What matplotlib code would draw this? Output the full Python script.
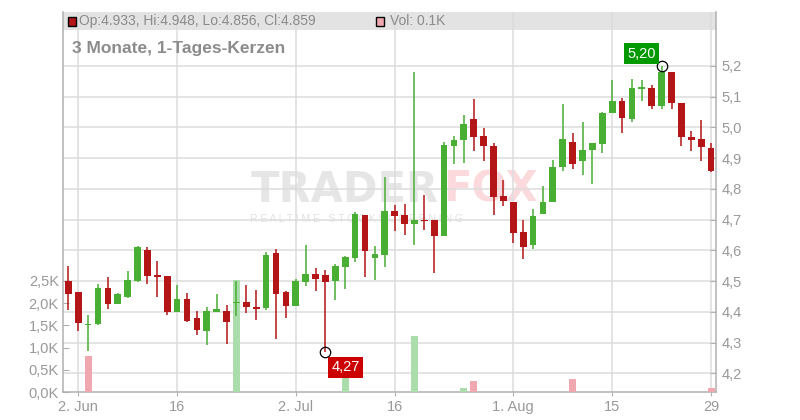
import pandas as pd
import matplotlib
matplotlib.use("Agg")
import matplotlib.pyplot as plt
from matplotlib.patches import Rectangle

plt.rcParams['font.family'] = ['Liberation Sans', 'DejaVu Sans']

# Daily candles, 30 May - 29 Aug (one per weekday)
dates = pd.bdate_range("2025-05-30", "2025-08-29")

opens = [4.500, 4.464, 4.356, 4.361, 4.477, 4.426, 4.448, 4.500, 4.600, 4.520,
         4.516, 4.400, 4.441, 4.379, 4.338, 4.399, 4.402, 4.427, 4.431, 4.415,
         4.412, 4.590, 4.464, 4.418, 4.497, 4.522, 4.519, 4.500, 4.546, 4.574,
         4.714, 4.574, 4.585, 4.729, 4.714, 4.685, 4.700, 4.697, 4.646, 4.938,
         4.958, 5.028, 4.973, 4.940, 4.775, 4.758, 4.659, 4.617, 4.717, 4.756,
         4.870, 4.953, 4.889, 4.926, 4.945, 5.045, 5.086, 5.026, 5.126, 5.129,
         5.068, 5.181, 5.080, 4.969, 4.963, 4.933]
highs = [4.548, 4.464, 4.389, 4.490, 4.512, 4.460, 4.532, 4.614, 4.610, 4.564,
         4.516, 4.486, 4.460, 4.403, 4.415, 4.457, 4.421, 4.500, 4.486, 4.470,
         4.594, 4.603, 4.467, 4.506, 4.616, 4.542, 4.535, 4.555, 4.581, 4.724,
         4.716, 4.613, 4.837, 4.747, 4.752, 5.179, 4.781, 4.697, 4.951, 4.973,
         5.041, 5.093, 4.999, 4.950, 4.830, 4.758, 4.697, 4.735, 4.808, 4.892,
         5.077, 4.982, 5.018, 4.950, 5.051, 5.155, 5.094, 5.158, 5.155, 5.138,
         5.200, 5.181, 5.080, 4.989, 5.025, 4.948]
lows = [4.405, 4.338, 4.273, 4.356, 4.408, 4.426, 4.444, 4.496, 4.491, 4.448,
        4.389, 4.398, 4.367, 4.324, 4.292, 4.399, 4.296, 4.386, 4.395, 4.374,
        4.405, 4.312, 4.379, 4.418, 4.484, 4.467, 4.270, 4.438, 4.473, 4.561,
        4.512, 4.503, 4.546, 4.662, 4.649, 4.617, 4.665, 4.525, 4.646, 4.881,
        4.883, 4.922, 4.889, 4.714, 4.743, 4.623, 4.570, 4.603, 4.717, 4.756,
        4.857, 4.863, 4.844, 4.815, 4.915, 5.045, 4.980, 5.016, 5.084, 5.061,
        5.058, 5.058, 4.938, 4.922, 4.889, 4.856]
closes = [4.459, 4.364, 4.360, 4.477, 4.426, 4.457, 4.503, 4.610, 4.517, 4.513,
          4.400, 4.441, 4.369, 4.341, 4.402, 4.408, 4.367, 4.431, 4.416, 4.408,
          4.584, 4.457, 4.418, 4.500, 4.522, 4.507, 4.497, 4.548, 4.577, 4.719,
          4.598, 4.587, 4.729, 4.711, 4.685, 4.700, 4.694, 4.646, 4.944, 4.958,
          5.012, 4.967, 4.938, 4.773, 4.760, 4.656, 4.612, 4.713, 4.758, 4.870,
          4.963, 4.880, 4.927, 4.950, 5.047, 5.086, 5.029, 5.129, 5.131, 5.068,
          5.181, 5.078, 4.967, 4.958, 4.935, 4.859]
volumes = [0] * 66
volumes[2] = 810
volumes[17] = 2510
volumes[28] = 450
volumes[35] = 1260
volumes[40] = 100
volumes[41] = 250
volumes[51] = 290
volumes[65] = 90

tick_dates = ["2025-06-02", "2025-06-16", "2025-07-02", "2025-07-16",
              "2025-08-01", "2025-08-15", "2025-08-29"]
tick_labels = ["2. Jun", "16", "2. Jul", "16", "1. Aug", "15", "29"]
price_ticks = [4.2, 4.3, 4.4, 4.5, 4.6, 4.7, 4.8, 4.9, 5.0, 5.1, 5.2]
vol_ticks = [0, 500, 1000, 1500, 2000, 2500]

header = "Op:4.933, Hi:4.948, Lo:4.856, Cl:4.859"
vol_text = "Vol: 0.1K"
title = "3 Monate, 1-Tages-Kerzen"

RED = '#b41618'
GREEN = '#48ae34'
PINK = '#f0a8b0'
LGREEN = '#abdcab'
GRAY = '#999999'

fig = plt.figure(figsize=(8, 4.2), dpi=100)
rect = [63 / 800, 28 / 420, 653 / 800, 380 / 420]

# bottom layer: grid, price ticks
ax = fig.add_axes(rect)
ax_v = ax.twinx()   # volume bars
ax_c = ax.twinx()   # candles on top
for a in (ax_v, ax_c):
    a.patch.set_visible(False)
    for s in a.spines.values():
        s.set_visible(False)

x = list(range(len(dates)))
ax.set_xlim(-0.54, 65.5)
ax.set_ylim(4.139, 5.375)
ax_c.set_ylim(4.139, 5.375)
ax_v.set_ylim(0, 8550)

tick_pos = [list(dates).index(pd.Timestamp(d)) for d in tick_dates]
ax.set_xticks(tick_pos)
ax.set_xticklabels(tick_labels)
ax.set_yticks(price_ticks)
ax.set_yticklabels([f"{v:.1f}".replace('.', ',') for v in price_ticks])
ax.yaxis.tick_right()
ax.set_axisbelow(True)
ax.grid(True, color='#dcdcdc', lw=1.1)
ax.tick_params(axis='x', length=3, color='#b0b0b0', labelcolor=GRAY,
               labelsize=10.5, pad=3)
ax.tick_params(axis='y', direction='in', length=4, color='#b0b0b0',
               labelcolor=GRAY, labelsize=10.5, pad=4)
ax.spines['top'].set_visible(False)
for s in ('left', 'right', 'bottom'):
    ax.spines[s].set_color('#b0b0b0')
    ax.spines[s].set_linewidth(1.1)

# header band
ax.add_patch(Rectangle((0, 1 - 18 / 380), 1, 18 / 380, transform=ax.transAxes,
                       facecolor='#e3e3e3', edgecolor='none', zorder=0.2))

# watermark (under the grid)
ax.text(439 / 800, 1 - 190 / 420, "TRADER", transform=fig.transFigure,
        ha='right', va='center', fontsize=30, fontweight='bold',
        family='DejaVu Sans', color='#e6e6e6', zorder=0.3)
ax.text(443 / 800, 1 - 190 / 420, "FOX", transform=fig.transFigure,
        ha='left', va='center', fontsize=30, fontweight='bold',
        family='DejaVu Sans', color='#fbd9dc', zorder=0.3)
ax.text(250 / 800, 1 - 219 / 420, "R E A L T I M E   S T O C K S C R E E N I N G",
        transform=fig.transFigure, ha='left', va='center', fontsize=7.5,
        color='#e2e2e2', zorder=0.3)

# volume
vol_colors = [PINK if i > 0 and closes[i] < closes[i - 1] else LGREEN for i in x]
ax_v.bar(x, volumes, width=0.7, color=vol_colors, edgecolor='none')
ax_v.yaxis.tick_left()
ax_v.set_yticks(vol_ticks)
ax_v.set_yticklabels([f"{v / 1000:.1f}K".replace('.', ',') for v in vol_ticks])
ax_v.tick_params(axis='y', direction='in', length=4, color='#b0b0b0',
                 labelcolor=GRAY, labelsize=10.5, pad=3)

# candles
for i in x:
    o, h, l, c = opens[i], highs[i], lows[i], closes[i]
    col = GREEN if c >= o else RED
    ax_c.vlines(i, l, h, color=col, lw=1.1)
    ax_c.bar(i, max(abs(c - o), 0.004), bottom=min(o, c), width=0.68,
             color=col, edgecolor='none')
ax_c.set_yticks([])

# extremes
i_lo = lows.index(min(lows))
i_hi = highs.index(max(highs))
ax_c.plot(i_lo, lows[i_lo], 'o', mfc='none', mec='black', ms=7.5, mew=0.9,
          clip_on=False, zorder=5)
ax_c.plot(i_hi, highs[i_hi], 'o', mfc='none', mec='black', ms=7.5, mew=0.9,
          clip_on=False, zorder=5)
ax_c.annotate(f"{lows[i_lo]:.2f}".replace('.', ','), (i_lo, lows[i_lo]),
              xytext=(14.5, -11.3), textcoords='offset points', ha='center',
              va='center', color='white', fontsize=10.5, zorder=6,
              bbox=dict(boxstyle='square,pad=0.22', fc='#cc0000', ec='none'))
ax_c.annotate(f"{highs[i_hi]:.2f}".replace('.', ','), (i_hi, highs[i_hi]),
              xytext=(-14.3, 8.8), textcoords='offset points', ha='center',
              va='center', color='white', fontsize=10.5, zorder=6,
              bbox=dict(boxstyle='square,pad=0.22', fc='#009900', ec='none'))

# header legend and title
fig.add_artist(Rectangle((68 / 800, 1 - 26 / 420), 8 / 800, 9 / 420,
                         transform=fig.transFigure, facecolor=RED,
                         edgecolor='black', lw=1))
fig.text(79 / 800, 1 - 21 / 420, header, ha='left', va='center',
         fontsize=10, color='#8a8a8a')
fig.add_artist(Rectangle((376 / 800, 1 - 26 / 420), 8 / 800, 9 / 420,
                         transform=fig.transFigure, facecolor=PINK,
                         edgecolor='black', lw=1))
fig.text(390 / 800, 1 - 21 / 420, vol_text, ha='left', va='center',
         fontsize=10, color='#8a8a8a')
fig.text(72 / 800, 1 - 48 / 420, title, ha='left', va='center',
         fontsize=12.5, fontweight='bold', color='#8c8c8c')

fig.savefig("out.png", dpi=100)
